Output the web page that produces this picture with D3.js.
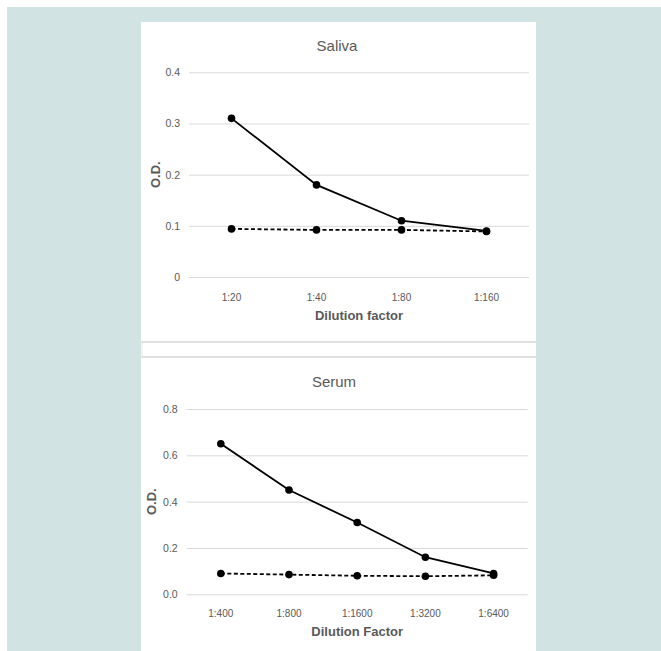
<!DOCTYPE html>
<html>
<head>
<meta charset="utf-8">
<script src="https://cdn.jsdelivr.net/npm/d3@7"></script>
<style>
    body { margin: 0; background: #fff; }
    svg text { font-family: "Liberation Sans Narrow", "Liberation Sans", Arial, sans-serif; }
</style>
</head>
<body>
<div id="chart"></div>
<script>
// Saliva panel
const salivaCategories = ['1:20', '1:40', '1:80', '1:160'];
const salivaSolid = [0.31, 0.18, 0.11, 0.09];
const salivaDashed = [0.094, 0.092, 0.092, 0.089];
const salivaTicks = [0, 0.1, 0.2, 0.3, 0.4];

// Serum panel
const serumCategories = ['1:400', '1:800', '1:1600', '1:3200', '1:6400'];
const serumSolid = [0.65, 0.45, 0.31, 0.16, 0.09];
const serumDashed = [0.09, 0.085, 0.08, 0.078, 0.082];
const serumTicks = [0, 0.2, 0.4, 0.6, 0.8];

const width = 661, height = 651;
const textColor = '#595959';
const gridColor = '#d9d9d9';

const svg = d3.select('#chart')
    .append('svg')
    .attr('width', width)
    .attr('height', height);

// teal backdrop
svg.append('rect')
    .attr('x', 7).attr('y', 7)
    .attr('width', width - 7).attr('height', height - 7)
    .attr('fill', '#d1e3e2');

// white panels
svg.append('rect').attr('x', 141).attr('y', 22).attr('width', 395).attr('height', 320).attr('fill', '#fff');
svg.append('rect').attr('x', 141).attr('y', 342).attr('width', 395).attr('height', 309).attr('fill', '#fff');

// separator strip between the two panels
[342, 357].forEach(y => {
    svg.append('line')
        .attr('x1', 141).attr('x2', 536)
        .attr('y1', y).attr('y2', y)
        .attr('stroke', '#e0e0e0').attr('stroke-width', 2);
});
svg.append('line')
    .attr('x1', 142).attr('x2', 142)
    .attr('y1', 342).attr('y2', 357)
    .attr('stroke', '#e8e8e8').attr('stroke-width', 1);

function drawPanel(opts) {
    const x = d3.scaleBand()
        .domain(opts.categories)
        .range([opts.left, opts.right]);
    const y = d3.scaleLinear()
        .domain([0, d3.max(opts.ticks)])
        .range([opts.bottom, opts.top]);

    const g = svg.append('g');

    // title
    g.append('text')
        .attr('x', opts.titleX).attr('y', opts.titleY)
        .attr('text-anchor', 'middle')
        .attr('fill', textColor)
        .attr('font-size', 15)
        .text(opts.title);

    // y axis with gridlines
    const yAxis = g.append('g')
        .attr('transform', `translate(${opts.left},0)`)
        .call(d3.axisLeft(y)
            .tickValues(opts.ticks)
            .tickSize(-(opts.right - opts.left))
            .tickPadding(9)
            .tickFormat(opts.tickFormat));
    yAxis.select('.domain').remove();
    yAxis.selectAll('line').attr('stroke', gridColor);
    yAxis.selectAll('text').attr('fill', textColor).attr('font-size', 10.5);

    // x axis labels
    const xAxis = g.append('g')
        .attr('transform', `translate(0,${opts.bottom})`)
        .call(d3.axisBottom(x).tickSize(0).tickPadding(opts.xPad));
    xAxis.select('.domain').remove();
    xAxis.selectAll('text').attr('fill', textColor).attr('font-size', 10);

    // axis titles
    g.append('text')
        .attr('x', (opts.left + opts.right) / 2).attr('y', opts.xTitleY)
        .attr('text-anchor', 'middle')
        .attr('fill', textColor)
        .attr('font-size', 13).attr('font-weight', 'bold')
        .text(opts.xTitle);
    g.append('text')
        .attr('transform', `translate(${opts.yTitleX},${(opts.top + opts.bottom) / 2}) rotate(-90)`)
        .attr('text-anchor', 'middle')
        .attr('fill', textColor)
        .attr('font-size', 13).attr('font-weight', 'bold')
        .text('O.D.');

    const line = d3.line()
        .x((d, i) => x(opts.categories[i]) + x.bandwidth() / 2)
        .y(d => y(d));

    [{ values: opts.dashed, dash: '4,2.5' }, { values: opts.solid, dash: null }].forEach(s => {
        g.append('path')
            .datum(s.values)
            .attr('d', line)
            .attr('fill', 'none')
            .attr('stroke', '#000')
            .attr('stroke-width', 1.8)
            .attr('stroke-dasharray', s.dash);
        g.selectAll(null)
            .data(s.values)
            .enter()
            .append('circle')
            .attr('cx', (d, i) => x(opts.categories[i]) + x.bandwidth() / 2)
            .attr('cy', d => y(d))
            .attr('r', 3.8)
            .attr('fill', '#000');
    });
}

drawPanel({
    title: 'Saliva', titleX: 337, titleY: 51,
    categories: salivaCategories, solid: salivaSolid, dashed: salivaDashed, ticks: salivaTicks,
    tickFormat: d => d === 0 ? '0' : d3.format('.1f')(d),
    left: 189, right: 529, top: 72.3, bottom: 277,
    xPad: 17, xTitle: 'Dilution factor', xTitleY: 320, yTitleX: 160
});

drawPanel({
    title: 'Serum', titleX: 334, titleY: 387,
    categories: serumCategories, solid: serumSolid, dashed: serumDashed, ticks: serumTicks,
    tickFormat: d3.format('.1f'),
    left: 186.7, right: 527.7, top: 409, bottom: 594.3,
    xPad: 16, xTitle: 'Dilution Factor', xTitleY: 636, yTitleX: 156
});
</script>
</body>
</html>
